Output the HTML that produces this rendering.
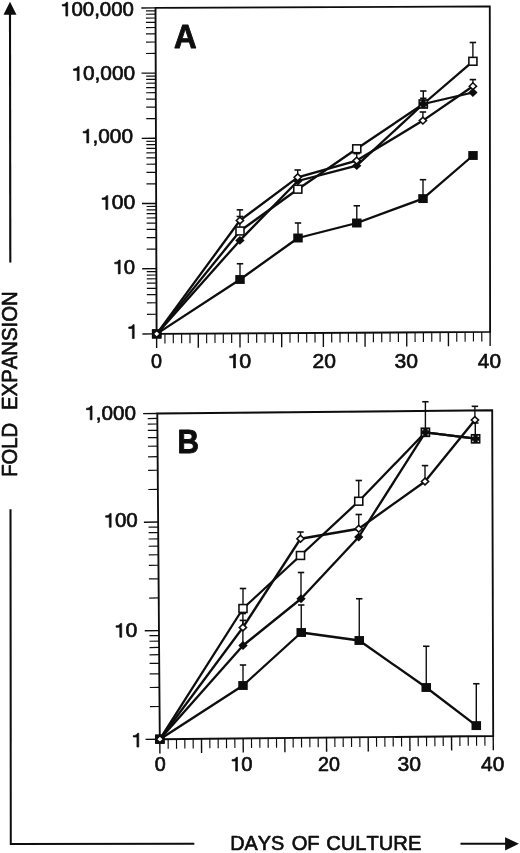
<!DOCTYPE html>
<html><head><meta charset="utf-8"><title>Fold expansion</title>
<style>
html,body{margin:0;padding:0;background:#fff;}
body{width:520px;height:853px;overflow:hidden;font-family:"Liberation Sans",sans-serif;}
svg{display:block;will-change:transform;opacity:0.999;}
svg text{font-family:"Liberation Sans",sans-serif;fill:#0a0a0a;}
</style></head><body>
<svg width="520" height="853" viewBox="0 0 520 853">
<defs><filter id="soft" x="0" y="0" width="520" height="853" filterUnits="userSpaceOnUse"><feGaussianBlur stdDeviation="0.35"/></filter></defs>
<rect width="520" height="853" fill="#fff"/>
<g filter="url(#soft)">
<line x1="156.60" y1="333.85" x2="142.40" y2="333.93" stroke="#111" stroke-width="1.4"/>
<line x1="156.53" y1="314.23" x2="146.93" y2="314.28" stroke="#111" stroke-width="1.2"/>
<line x1="156.50" y1="302.75" x2="146.90" y2="302.80" stroke="#111" stroke-width="1.2"/>
<line x1="156.47" y1="294.60" x2="146.87" y2="294.66" stroke="#111" stroke-width="1.2"/>
<line x1="156.45" y1="288.28" x2="146.85" y2="288.34" stroke="#111" stroke-width="1.2"/>
<line x1="156.43" y1="283.12" x2="146.83" y2="283.18" stroke="#111" stroke-width="1.2"/>
<line x1="156.41" y1="278.76" x2="146.81" y2="278.81" stroke="#111" stroke-width="1.2"/>
<line x1="156.40" y1="274.98" x2="146.80" y2="275.03" stroke="#111" stroke-width="1.2"/>
<line x1="156.39" y1="271.64" x2="146.79" y2="271.70" stroke="#111" stroke-width="1.2"/>
<line x1="156.38" y1="268.66" x2="142.18" y2="268.74" stroke="#111" stroke-width="1.4"/>
<line x1="156.31" y1="249.04" x2="146.71" y2="249.09" stroke="#111" stroke-width="1.2"/>
<line x1="156.28" y1="237.56" x2="146.68" y2="237.61" stroke="#111" stroke-width="1.2"/>
<line x1="156.25" y1="229.41" x2="146.65" y2="229.46" stroke="#111" stroke-width="1.2"/>
<line x1="156.23" y1="223.09" x2="146.63" y2="223.15" stroke="#111" stroke-width="1.2"/>
<line x1="156.21" y1="217.93" x2="146.61" y2="217.98" stroke="#111" stroke-width="1.2"/>
<line x1="156.19" y1="213.57" x2="146.59" y2="213.62" stroke="#111" stroke-width="1.2"/>
<line x1="156.18" y1="209.79" x2="146.58" y2="209.84" stroke="#111" stroke-width="1.2"/>
<line x1="156.17" y1="206.45" x2="146.57" y2="206.50" stroke="#111" stroke-width="1.2"/>
<line x1="156.16" y1="203.47" x2="141.96" y2="203.55" stroke="#111" stroke-width="1.4"/>
<line x1="156.09" y1="183.85" x2="146.49" y2="183.90" stroke="#111" stroke-width="1.2"/>
<line x1="156.06" y1="172.37" x2="146.46" y2="172.42" stroke="#111" stroke-width="1.2"/>
<line x1="156.03" y1="164.22" x2="146.43" y2="164.27" stroke="#111" stroke-width="1.2"/>
<line x1="156.01" y1="157.90" x2="146.41" y2="157.95" stroke="#111" stroke-width="1.2"/>
<line x1="155.99" y1="152.74" x2="146.39" y2="152.79" stroke="#111" stroke-width="1.2"/>
<line x1="155.97" y1="148.38" x2="146.37" y2="148.43" stroke="#111" stroke-width="1.2"/>
<line x1="155.96" y1="144.60" x2="146.36" y2="144.65" stroke="#111" stroke-width="1.2"/>
<line x1="155.95" y1="141.26" x2="146.35" y2="141.31" stroke="#111" stroke-width="1.2"/>
<line x1="155.94" y1="138.28" x2="141.74" y2="138.35" stroke="#111" stroke-width="1.4"/>
<line x1="155.87" y1="118.66" x2="146.27" y2="118.70" stroke="#111" stroke-width="1.2"/>
<line x1="155.84" y1="107.18" x2="146.24" y2="107.22" stroke="#111" stroke-width="1.2"/>
<line x1="155.81" y1="99.03" x2="146.21" y2="99.08" stroke="#111" stroke-width="1.2"/>
<line x1="155.79" y1="92.71" x2="146.19" y2="92.76" stroke="#111" stroke-width="1.2"/>
<line x1="155.77" y1="87.55" x2="146.17" y2="87.60" stroke="#111" stroke-width="1.2"/>
<line x1="155.75" y1="83.19" x2="146.15" y2="83.23" stroke="#111" stroke-width="1.2"/>
<line x1="155.74" y1="79.41" x2="146.14" y2="79.45" stroke="#111" stroke-width="1.2"/>
<line x1="155.73" y1="76.07" x2="146.13" y2="76.12" stroke="#111" stroke-width="1.2"/>
<line x1="155.72" y1="73.09" x2="141.52" y2="73.16" stroke="#111" stroke-width="1.4"/>
<line x1="155.65" y1="53.47" x2="146.05" y2="53.51" stroke="#111" stroke-width="1.2"/>
<line x1="155.62" y1="41.99" x2="146.02" y2="42.03" stroke="#111" stroke-width="1.2"/>
<line x1="155.59" y1="33.84" x2="145.99" y2="33.89" stroke="#111" stroke-width="1.2"/>
<line x1="155.57" y1="27.52" x2="145.97" y2="27.57" stroke="#111" stroke-width="1.2"/>
<line x1="155.55" y1="22.36" x2="145.95" y2="22.41" stroke="#111" stroke-width="1.2"/>
<line x1="155.53" y1="18.00" x2="145.93" y2="18.04" stroke="#111" stroke-width="1.2"/>
<line x1="155.52" y1="14.22" x2="145.92" y2="14.26" stroke="#111" stroke-width="1.2"/>
<line x1="155.51" y1="10.88" x2="145.91" y2="10.93" stroke="#111" stroke-width="1.2"/>
<line x1="155.50" y1="7.90" x2="141.30" y2="7.96" stroke="#111" stroke-width="1.4"/>
<line x1="156.60" y1="333.85" x2="156.65" y2="348.05" stroke="#111" stroke-width="1.4"/>
<line x1="164.94" y1="333.80" x2="164.97" y2="343.40" stroke="#111" stroke-width="1.15"/>
<line x1="173.28" y1="333.75" x2="173.31" y2="343.35" stroke="#111" stroke-width="1.15"/>
<line x1="181.61" y1="333.70" x2="181.64" y2="343.30" stroke="#111" stroke-width="1.15"/>
<line x1="189.95" y1="333.66" x2="189.98" y2="343.25" stroke="#111" stroke-width="1.15"/>
<line x1="198.29" y1="333.61" x2="198.34" y2="347.81" stroke="#111" stroke-width="1.4"/>
<line x1="206.62" y1="333.56" x2="206.66" y2="343.16" stroke="#111" stroke-width="1.15"/>
<line x1="214.96" y1="333.51" x2="214.99" y2="343.11" stroke="#111" stroke-width="1.15"/>
<line x1="223.30" y1="333.46" x2="223.33" y2="343.06" stroke="#111" stroke-width="1.15"/>
<line x1="231.64" y1="333.41" x2="231.67" y2="343.01" stroke="#111" stroke-width="1.15"/>
<line x1="239.97" y1="333.36" x2="240.02" y2="347.56" stroke="#111" stroke-width="1.4"/>
<line x1="248.31" y1="333.31" x2="248.34" y2="342.91" stroke="#111" stroke-width="1.15"/>
<line x1="256.65" y1="333.26" x2="256.68" y2="342.86" stroke="#111" stroke-width="1.15"/>
<line x1="264.99" y1="333.22" x2="265.02" y2="342.82" stroke="#111" stroke-width="1.15"/>
<line x1="273.32" y1="333.17" x2="273.36" y2="342.77" stroke="#111" stroke-width="1.15"/>
<line x1="281.66" y1="333.12" x2="281.71" y2="347.32" stroke="#111" stroke-width="1.4"/>
<line x1="290.00" y1="333.07" x2="290.03" y2="342.67" stroke="#111" stroke-width="1.15"/>
<line x1="298.34" y1="333.02" x2="298.37" y2="342.62" stroke="#111" stroke-width="1.15"/>
<line x1="306.68" y1="332.97" x2="306.71" y2="342.57" stroke="#111" stroke-width="1.15"/>
<line x1="315.01" y1="332.92" x2="315.04" y2="342.52" stroke="#111" stroke-width="1.15"/>
<line x1="323.35" y1="332.88" x2="323.40" y2="347.07" stroke="#111" stroke-width="1.4"/>
<line x1="331.69" y1="332.83" x2="331.72" y2="342.43" stroke="#111" stroke-width="1.15"/>
<line x1="340.02" y1="332.78" x2="340.06" y2="342.38" stroke="#111" stroke-width="1.15"/>
<line x1="348.36" y1="332.73" x2="348.39" y2="342.33" stroke="#111" stroke-width="1.15"/>
<line x1="356.70" y1="332.68" x2="356.73" y2="342.28" stroke="#111" stroke-width="1.15"/>
<line x1="365.04" y1="332.63" x2="365.09" y2="346.83" stroke="#111" stroke-width="1.4"/>
<line x1="373.38" y1="332.58" x2="373.41" y2="342.18" stroke="#111" stroke-width="1.15"/>
<line x1="381.71" y1="332.53" x2="381.74" y2="342.13" stroke="#111" stroke-width="1.15"/>
<line x1="390.05" y1="332.49" x2="390.08" y2="342.08" stroke="#111" stroke-width="1.15"/>
<line x1="398.39" y1="332.44" x2="398.42" y2="342.04" stroke="#111" stroke-width="1.15"/>
<line x1="406.73" y1="332.39" x2="406.77" y2="346.59" stroke="#111" stroke-width="1.4"/>
<line x1="415.06" y1="332.34" x2="415.09" y2="341.94" stroke="#111" stroke-width="1.15"/>
<line x1="423.40" y1="332.29" x2="423.43" y2="341.89" stroke="#111" stroke-width="1.15"/>
<line x1="431.74" y1="332.24" x2="431.77" y2="341.84" stroke="#111" stroke-width="1.15"/>
<line x1="440.07" y1="332.19" x2="440.11" y2="341.79" stroke="#111" stroke-width="1.15"/>
<line x1="448.41" y1="332.14" x2="448.46" y2="346.34" stroke="#111" stroke-width="1.4"/>
<line x1="456.75" y1="332.09" x2="456.78" y2="341.69" stroke="#111" stroke-width="1.15"/>
<line x1="465.09" y1="332.05" x2="465.12" y2="341.65" stroke="#111" stroke-width="1.15"/>
<line x1="473.42" y1="332.00" x2="473.46" y2="341.60" stroke="#111" stroke-width="1.15"/>
<line x1="481.76" y1="331.95" x2="481.79" y2="341.55" stroke="#111" stroke-width="1.15"/>
<line x1="490.10" y1="331.90" x2="490.15" y2="346.10" stroke="#111" stroke-width="1.4"/>
<polyline points="156.70,333.90 240.00,279.50 298.00,238.00 356.80,223.00 423.00,198.60 473.00,155.50" fill="none" stroke="#0a0a0a" stroke-width="2.3" stroke-linejoin="round"/>
<polyline points="156.70,333.90 239.90,240.40 297.80,181.00 356.70,165.70 423.30,104.00 472.90,92.50" fill="none" stroke="#0a0a0a" stroke-width="2.3" stroke-linejoin="round"/>
<polyline points="156.70,333.90 240.00,231.00 297.80,189.20 356.75,148.75 423.30,104.00 472.90,61.30" fill="none" stroke="#0a0a0a" stroke-width="2.3" stroke-linejoin="round"/>
<polyline points="156.70,333.90 239.90,220.50 297.70,177.30 356.70,160.60 422.90,120.60 472.90,86.20" fill="none" stroke="#0a0a0a" stroke-width="2.3" stroke-linejoin="round"/>
<polygon points="155.5,7.9 489.8,6.4 490.1,331.9 156.6,333.85" fill="none" stroke="#0a0a0a" stroke-width="1.85"/>
<line x1="240.00" y1="279.50" x2="240.00" y2="263.75" stroke="#111" stroke-width="1.4"/>
<line x1="236.80" y1="263.75" x2="243.20" y2="263.75" stroke="#111" stroke-width="1.6"/>
<line x1="298.00" y1="238.00" x2="298.00" y2="223.00" stroke="#111" stroke-width="1.4"/>
<line x1="294.80" y1="223.00" x2="301.20" y2="223.00" stroke="#111" stroke-width="1.6"/>
<line x1="356.80" y1="223.00" x2="356.80" y2="205.80" stroke="#111" stroke-width="1.4"/>
<line x1="353.60" y1="205.80" x2="360.00" y2="205.80" stroke="#111" stroke-width="1.6"/>
<line x1="423.00" y1="198.60" x2="423.00" y2="179.70" stroke="#111" stroke-width="1.4"/>
<line x1="419.80" y1="179.70" x2="426.20" y2="179.70" stroke="#111" stroke-width="1.6"/>
<line x1="423.30" y1="104.00" x2="423.30" y2="91.00" stroke="#111" stroke-width="1.4"/>
<line x1="420.10" y1="91.00" x2="426.50" y2="91.00" stroke="#111" stroke-width="1.6"/>
<line x1="423.30" y1="104.00" x2="423.30" y2="98.30" stroke="#111" stroke-width="1.4"/>
<line x1="420.10" y1="98.30" x2="426.50" y2="98.30" stroke="#111" stroke-width="1.6"/>
<line x1="472.90" y1="61.30" x2="472.90" y2="42.50" stroke="#111" stroke-width="1.4"/>
<line x1="469.70" y1="42.50" x2="476.10" y2="42.50" stroke="#111" stroke-width="1.6"/>
<line x1="239.85" y1="231.00" x2="239.85" y2="216.50" stroke="#111" stroke-width="1.4"/>
<line x1="236.65" y1="216.50" x2="243.05" y2="216.50" stroke="#111" stroke-width="1.6"/>
<line x1="239.90" y1="220.50" x2="239.90" y2="209.85" stroke="#111" stroke-width="1.4"/>
<line x1="236.70" y1="209.85" x2="243.10" y2="209.85" stroke="#111" stroke-width="1.6"/>
<line x1="297.70" y1="177.30" x2="297.70" y2="170.00" stroke="#111" stroke-width="1.4"/>
<line x1="294.50" y1="170.00" x2="300.90" y2="170.00" stroke="#111" stroke-width="1.6"/>
<line x1="422.90" y1="120.60" x2="422.90" y2="112.00" stroke="#111" stroke-width="1.4"/>
<line x1="419.70" y1="112.00" x2="426.10" y2="112.00" stroke="#111" stroke-width="1.6"/>
<line x1="356.70" y1="160.60" x2="356.70" y2="153.60" stroke="#111" stroke-width="1.4"/>
<line x1="353.50" y1="153.60" x2="359.90" y2="153.60" stroke="#111" stroke-width="1.6"/>
<line x1="472.90" y1="86.20" x2="472.90" y2="79.60" stroke="#111" stroke-width="1.4"/>
<line x1="469.70" y1="79.60" x2="476.10" y2="79.60" stroke="#111" stroke-width="1.6"/>
<rect x="152.67" y="329.97" width="8.05" height="7.85" fill="#fff" stroke="#0a0a0a" stroke-width="1.55"/>
<rect x="235.97" y="227.08" width="8.05" height="7.85" fill="#fff" stroke="#0a0a0a" stroke-width="1.55"/>
<rect x="293.77" y="185.28" width="8.05" height="7.85" fill="#fff" stroke="#0a0a0a" stroke-width="1.55"/>
<rect x="352.72" y="144.83" width="8.05" height="7.85" fill="#fff" stroke="#0a0a0a" stroke-width="1.55"/>
<rect x="468.87" y="57.37" width="8.05" height="7.85" fill="#fff" stroke="#0a0a0a" stroke-width="1.55"/>
<rect x="151.95" y="329.45" width="9.50" height="8.90" fill="#0a0a0a"/>
<rect x="235.25" y="275.05" width="9.50" height="8.90" fill="#0a0a0a"/>
<rect x="293.25" y="233.55" width="9.50" height="8.90" fill="#0a0a0a"/>
<rect x="352.05" y="218.55" width="9.50" height="8.90" fill="#0a0a0a"/>
<rect x="418.25" y="194.15" width="9.50" height="8.90" fill="#0a0a0a"/>
<rect x="468.25" y="151.05" width="9.50" height="8.90" fill="#0a0a0a"/>
<polygon points="152.05,333.90 156.70,329.50 161.35,333.90 156.70,338.30" fill="#0a0a0a"/>
<polygon points="235.25,240.40 239.90,236.00 244.55,240.40 239.90,244.80" fill="#0a0a0a"/>
<polygon points="293.15,181.00 297.80,176.60 302.45,181.00 297.80,185.40" fill="#0a0a0a"/>
<polygon points="352.05,165.70 356.70,161.30 361.35,165.70 356.70,170.10" fill="#0a0a0a"/>
<polygon points="468.25,92.50 472.90,88.10 477.55,92.50 472.90,96.90" fill="#0a0a0a"/>
<polygon points="153.10,333.90 156.70,330.50 160.30,333.90 156.70,337.30" fill="#fff" stroke="#0a0a0a" stroke-width="1.55" stroke-linejoin="miter"/>
<polygon points="236.30,220.50 239.90,217.10 243.50,220.50 239.90,223.90" fill="#fff" stroke="#0a0a0a" stroke-width="1.55" stroke-linejoin="miter"/>
<polygon points="294.10,177.30 297.70,173.90 301.30,177.30 297.70,180.70" fill="#fff" stroke="#0a0a0a" stroke-width="1.55" stroke-linejoin="miter"/>
<polygon points="353.10,160.60 356.70,157.20 360.30,160.60 356.70,164.00" fill="#fff" stroke="#0a0a0a" stroke-width="1.55" stroke-linejoin="miter"/>
<polygon points="419.30,120.60 422.90,117.20 426.50,120.60 422.90,124.00" fill="#fff" stroke="#0a0a0a" stroke-width="1.55" stroke-linejoin="miter"/>
<polygon points="469.30,86.20 472.90,82.80 476.50,86.20 472.90,89.60" fill="#fff" stroke="#0a0a0a" stroke-width="1.55" stroke-linejoin="miter"/>
<rect x="418.45" y="99.15" width="9.7" height="9.7" fill="#0a0a0a"/>
<rect x="419.85" y="100.75" width="1.4" height="1.4" fill="#8a8a8a"/>
<rect x="419.85" y="105.85" width="1.4" height="1.4" fill="#8a8a8a"/>
<rect x="425.35" y="100.75" width="1.4" height="1.4" fill="#8a8a8a"/>
<rect x="425.35" y="105.85" width="1.4" height="1.4" fill="#8a8a8a"/>
<line x1="159.80" y1="739.20" x2="145.60" y2="739.34" stroke="#111" stroke-width="1.4"/>
<line x1="159.55" y1="706.52" x2="149.95" y2="706.61" stroke="#111" stroke-width="1.2"/>
<line x1="159.40" y1="687.40" x2="149.80" y2="687.49" stroke="#111" stroke-width="1.2"/>
<line x1="159.30" y1="673.84" x2="149.70" y2="673.93" stroke="#111" stroke-width="1.2"/>
<line x1="159.22" y1="663.32" x2="149.62" y2="663.41" stroke="#111" stroke-width="1.2"/>
<line x1="159.15" y1="654.72" x2="149.55" y2="654.81" stroke="#111" stroke-width="1.2"/>
<line x1="159.10" y1="647.45" x2="149.50" y2="647.54" stroke="#111" stroke-width="1.2"/>
<line x1="159.05" y1="641.15" x2="149.45" y2="641.25" stroke="#111" stroke-width="1.2"/>
<line x1="159.00" y1="635.60" x2="149.41" y2="635.69" stroke="#111" stroke-width="1.2"/>
<line x1="158.97" y1="630.63" x2="144.77" y2="630.77" stroke="#111" stroke-width="1.4"/>
<line x1="158.72" y1="597.95" x2="149.12" y2="598.04" stroke="#111" stroke-width="1.2"/>
<line x1="158.57" y1="578.83" x2="148.97" y2="578.93" stroke="#111" stroke-width="1.2"/>
<line x1="158.46" y1="565.27" x2="148.87" y2="565.36" stroke="#111" stroke-width="1.2"/>
<line x1="158.38" y1="554.75" x2="148.78" y2="554.84" stroke="#111" stroke-width="1.2"/>
<line x1="158.32" y1="546.15" x2="148.72" y2="546.24" stroke="#111" stroke-width="1.2"/>
<line x1="158.26" y1="538.88" x2="148.66" y2="538.98" stroke="#111" stroke-width="1.2"/>
<line x1="158.21" y1="532.59" x2="148.61" y2="532.68" stroke="#111" stroke-width="1.2"/>
<line x1="158.17" y1="527.03" x2="148.57" y2="527.13" stroke="#111" stroke-width="1.2"/>
<line x1="158.13" y1="522.07" x2="143.93" y2="522.20" stroke="#111" stroke-width="1.4"/>
<line x1="157.88" y1="489.38" x2="148.28" y2="489.48" stroke="#111" stroke-width="1.2"/>
<line x1="157.74" y1="470.27" x2="148.14" y2="470.36" stroke="#111" stroke-width="1.2"/>
<line x1="157.63" y1="456.70" x2="148.03" y2="456.79" stroke="#111" stroke-width="1.2"/>
<line x1="157.55" y1="446.18" x2="147.95" y2="446.27" stroke="#111" stroke-width="1.2"/>
<line x1="157.48" y1="437.59" x2="147.89" y2="437.68" stroke="#111" stroke-width="1.2"/>
<line x1="157.43" y1="430.32" x2="147.83" y2="430.41" stroke="#111" stroke-width="1.2"/>
<line x1="157.38" y1="424.02" x2="147.78" y2="424.11" stroke="#111" stroke-width="1.2"/>
<line x1="157.34" y1="418.47" x2="147.74" y2="418.56" stroke="#111" stroke-width="1.2"/>
<line x1="157.30" y1="413.50" x2="143.10" y2="413.64" stroke="#111" stroke-width="1.4"/>
<line x1="159.80" y1="739.20" x2="159.91" y2="753.40" stroke="#111" stroke-width="1.4"/>
<line x1="168.14" y1="739.12" x2="168.21" y2="748.72" stroke="#111" stroke-width="1.15"/>
<line x1="176.47" y1="739.04" x2="176.54" y2="748.64" stroke="#111" stroke-width="1.15"/>
<line x1="184.81" y1="738.96" x2="184.88" y2="748.56" stroke="#111" stroke-width="1.15"/>
<line x1="193.14" y1="738.88" x2="193.21" y2="748.48" stroke="#111" stroke-width="1.15"/>
<line x1="201.48" y1="738.80" x2="201.58" y2="753.00" stroke="#111" stroke-width="1.4"/>
<line x1="209.81" y1="738.72" x2="209.88" y2="748.32" stroke="#111" stroke-width="1.15"/>
<line x1="218.15" y1="738.64" x2="218.22" y2="748.24" stroke="#111" stroke-width="1.15"/>
<line x1="226.48" y1="738.56" x2="226.55" y2="748.16" stroke="#111" stroke-width="1.15"/>
<line x1="234.81" y1="738.48" x2="234.89" y2="748.08" stroke="#111" stroke-width="1.15"/>
<line x1="243.15" y1="738.40" x2="243.26" y2="752.60" stroke="#111" stroke-width="1.4"/>
<line x1="251.49" y1="738.32" x2="251.56" y2="747.92" stroke="#111" stroke-width="1.15"/>
<line x1="259.82" y1="738.24" x2="259.89" y2="747.84" stroke="#111" stroke-width="1.15"/>
<line x1="268.15" y1="738.16" x2="268.23" y2="747.76" stroke="#111" stroke-width="1.15"/>
<line x1="276.49" y1="738.08" x2="276.56" y2="747.68" stroke="#111" stroke-width="1.15"/>
<line x1="284.82" y1="738.00" x2="284.93" y2="752.20" stroke="#111" stroke-width="1.4"/>
<line x1="293.16" y1="737.92" x2="293.23" y2="747.52" stroke="#111" stroke-width="1.15"/>
<line x1="301.50" y1="737.84" x2="301.57" y2="747.44" stroke="#111" stroke-width="1.15"/>
<line x1="309.83" y1="737.76" x2="309.90" y2="747.36" stroke="#111" stroke-width="1.15"/>
<line x1="318.16" y1="737.68" x2="318.24" y2="747.28" stroke="#111" stroke-width="1.15"/>
<line x1="326.50" y1="737.60" x2="326.61" y2="751.80" stroke="#111" stroke-width="1.4"/>
<line x1="334.84" y1="737.52" x2="334.91" y2="747.12" stroke="#111" stroke-width="1.15"/>
<line x1="343.17" y1="737.44" x2="343.24" y2="747.04" stroke="#111" stroke-width="1.15"/>
<line x1="351.50" y1="737.36" x2="351.58" y2="746.96" stroke="#111" stroke-width="1.15"/>
<line x1="359.84" y1="737.28" x2="359.91" y2="746.88" stroke="#111" stroke-width="1.15"/>
<line x1="368.18" y1="737.20" x2="368.28" y2="751.40" stroke="#111" stroke-width="1.4"/>
<line x1="376.51" y1="737.12" x2="376.58" y2="746.72" stroke="#111" stroke-width="1.15"/>
<line x1="384.85" y1="737.04" x2="384.92" y2="746.64" stroke="#111" stroke-width="1.15"/>
<line x1="393.18" y1="736.96" x2="393.25" y2="746.56" stroke="#111" stroke-width="1.15"/>
<line x1="401.51" y1="736.88" x2="401.59" y2="746.48" stroke="#111" stroke-width="1.15"/>
<line x1="409.85" y1="736.80" x2="409.96" y2="751.00" stroke="#111" stroke-width="1.4"/>
<line x1="418.19" y1="736.72" x2="418.26" y2="746.32" stroke="#111" stroke-width="1.15"/>
<line x1="426.52" y1="736.64" x2="426.59" y2="746.24" stroke="#111" stroke-width="1.15"/>
<line x1="434.85" y1="736.56" x2="434.93" y2="746.16" stroke="#111" stroke-width="1.15"/>
<line x1="443.19" y1="736.48" x2="443.26" y2="746.08" stroke="#111" stroke-width="1.15"/>
<line x1="451.52" y1="736.40" x2="451.63" y2="750.60" stroke="#111" stroke-width="1.4"/>
<line x1="459.86" y1="736.32" x2="459.93" y2="745.92" stroke="#111" stroke-width="1.15"/>
<line x1="468.19" y1="736.24" x2="468.27" y2="745.84" stroke="#111" stroke-width="1.15"/>
<line x1="476.53" y1="736.16" x2="476.60" y2="745.76" stroke="#111" stroke-width="1.15"/>
<line x1="484.87" y1="736.08" x2="484.94" y2="745.68" stroke="#111" stroke-width="1.15"/>
<line x1="493.20" y1="736.00" x2="493.31" y2="750.20" stroke="#111" stroke-width="1.4"/>
<polyline points="159.90,739.20 243.00,685.50 301.25,632.50 359.25,640.50 426.25,687.50 476.30,725.60" fill="none" stroke="#0a0a0a" stroke-width="2.3" stroke-linejoin="round"/>
<polyline points="159.90,739.20 243.00,645.50 301.00,598.75 358.75,537.00 425.40,432.30 475.60,438.60" fill="none" stroke="#0a0a0a" stroke-width="2.3" stroke-linejoin="round"/>
<polyline points="159.90,739.20 243.00,608.50 300.50,555.50 358.75,501.25 425.40,432.30 475.60,438.60" fill="none" stroke="#0a0a0a" stroke-width="2.3" stroke-linejoin="round"/>
<polyline points="159.90,739.20 242.90,627.50 300.50,538.75 358.75,528.75 425.00,481.50 474.90,420.00" fill="none" stroke="#0a0a0a" stroke-width="2.3" stroke-linejoin="round"/>
<polygon points="157.3,413.5 492.2,410.3 493.2,736.0 159.8,739.2" fill="none" stroke="#0a0a0a" stroke-width="1.85"/>
<line x1="243.00" y1="685.50" x2="243.00" y2="665.00" stroke="#111" stroke-width="1.4"/>
<line x1="239.80" y1="665.00" x2="246.20" y2="665.00" stroke="#111" stroke-width="1.6"/>
<line x1="301.25" y1="632.50" x2="301.25" y2="605.00" stroke="#111" stroke-width="1.4"/>
<line x1="298.05" y1="605.00" x2="304.45" y2="605.00" stroke="#111" stroke-width="1.6"/>
<line x1="359.25" y1="640.50" x2="359.25" y2="598.75" stroke="#111" stroke-width="1.4"/>
<line x1="356.05" y1="598.75" x2="362.45" y2="598.75" stroke="#111" stroke-width="1.6"/>
<line x1="426.25" y1="687.50" x2="426.25" y2="646.25" stroke="#111" stroke-width="1.4"/>
<line x1="423.05" y1="646.25" x2="429.45" y2="646.25" stroke="#111" stroke-width="1.6"/>
<line x1="476.30" y1="725.60" x2="476.30" y2="683.75" stroke="#111" stroke-width="1.4"/>
<line x1="473.10" y1="683.75" x2="479.50" y2="683.75" stroke="#111" stroke-width="1.6"/>
<line x1="301.00" y1="598.75" x2="301.00" y2="572.50" stroke="#111" stroke-width="1.4"/>
<line x1="297.80" y1="572.50" x2="304.20" y2="572.50" stroke="#111" stroke-width="1.6"/>
<line x1="243.00" y1="608.50" x2="243.00" y2="588.50" stroke="#111" stroke-width="1.4"/>
<line x1="239.80" y1="588.50" x2="246.20" y2="588.50" stroke="#111" stroke-width="1.6"/>
<line x1="358.75" y1="501.25" x2="358.75" y2="480.50" stroke="#111" stroke-width="1.4"/>
<line x1="355.55" y1="480.50" x2="361.95" y2="480.50" stroke="#111" stroke-width="1.6"/>
<line x1="425.40" y1="432.30" x2="425.40" y2="401.75" stroke="#111" stroke-width="1.4"/>
<line x1="422.20" y1="401.75" x2="428.60" y2="401.75" stroke="#111" stroke-width="1.6"/>
<line x1="475.30" y1="438.60" x2="475.30" y2="423.00" stroke="#111" stroke-width="1.4"/>
<line x1="472.10" y1="423.00" x2="478.50" y2="423.00" stroke="#111" stroke-width="1.6"/>
<line x1="242.90" y1="645.50" x2="242.90" y2="620.40" stroke="#111" stroke-width="1.4"/>
<line x1="239.70" y1="620.40" x2="246.10" y2="620.40" stroke="#111" stroke-width="1.6"/>
<line x1="242.90" y1="627.50" x2="242.90" y2="613.50" stroke="#111" stroke-width="1.4"/>
<line x1="239.70" y1="613.50" x2="246.10" y2="613.50" stroke="#111" stroke-width="1.6"/>
<line x1="300.50" y1="538.75" x2="300.50" y2="532.00" stroke="#111" stroke-width="1.4"/>
<line x1="297.30" y1="532.00" x2="303.70" y2="532.00" stroke="#111" stroke-width="1.6"/>
<line x1="358.75" y1="528.75" x2="358.75" y2="514.50" stroke="#111" stroke-width="1.4"/>
<line x1="355.55" y1="514.50" x2="361.95" y2="514.50" stroke="#111" stroke-width="1.6"/>
<line x1="425.00" y1="481.50" x2="425.00" y2="465.60" stroke="#111" stroke-width="1.4"/>
<line x1="421.80" y1="465.60" x2="428.20" y2="465.60" stroke="#111" stroke-width="1.6"/>
<line x1="474.90" y1="420.00" x2="474.90" y2="406.30" stroke="#111" stroke-width="1.4"/>
<line x1="471.70" y1="406.30" x2="478.10" y2="406.30" stroke="#111" stroke-width="1.6"/>
<rect x="155.88" y="735.27" width="8.05" height="7.85" fill="#fff" stroke="#0a0a0a" stroke-width="1.55"/>
<rect x="238.97" y="604.57" width="8.05" height="7.85" fill="#fff" stroke="#0a0a0a" stroke-width="1.55"/>
<rect x="296.47" y="551.57" width="8.05" height="7.85" fill="#fff" stroke="#0a0a0a" stroke-width="1.55"/>
<rect x="354.72" y="497.32" width="8.05" height="7.85" fill="#fff" stroke="#0a0a0a" stroke-width="1.55"/>
<rect x="155.15" y="734.75" width="9.50" height="8.90" fill="#0a0a0a"/>
<rect x="238.25" y="681.05" width="9.50" height="8.90" fill="#0a0a0a"/>
<rect x="296.50" y="628.05" width="9.50" height="8.90" fill="#0a0a0a"/>
<rect x="354.50" y="636.05" width="9.50" height="8.90" fill="#0a0a0a"/>
<rect x="421.50" y="683.05" width="9.50" height="8.90" fill="#0a0a0a"/>
<rect x="471.55" y="721.15" width="9.50" height="8.90" fill="#0a0a0a"/>
<polygon points="155.25,739.20 159.90,734.80 164.55,739.20 159.90,743.60" fill="#0a0a0a"/>
<polygon points="238.35,645.50 243.00,641.10 247.65,645.50 243.00,649.90" fill="#0a0a0a"/>
<polygon points="296.35,598.75 301.00,594.35 305.65,598.75 301.00,603.15" fill="#0a0a0a"/>
<polygon points="354.10,537.00 358.75,532.60 363.40,537.00 358.75,541.40" fill="#0a0a0a"/>
<polygon points="156.30,739.20 159.90,735.80 163.50,739.20 159.90,742.60" fill="#fff" stroke="#0a0a0a" stroke-width="1.55" stroke-linejoin="miter"/>
<polygon points="239.30,627.50 242.90,624.10 246.50,627.50 242.90,630.90" fill="#fff" stroke="#0a0a0a" stroke-width="1.55" stroke-linejoin="miter"/>
<polygon points="296.90,538.75 300.50,535.35 304.10,538.75 300.50,542.15" fill="#fff" stroke="#0a0a0a" stroke-width="1.55" stroke-linejoin="miter"/>
<polygon points="355.15,528.75 358.75,525.35 362.35,528.75 358.75,532.15" fill="#fff" stroke="#0a0a0a" stroke-width="1.55" stroke-linejoin="miter"/>
<polygon points="421.40,481.50 425.00,478.10 428.60,481.50 425.00,484.90" fill="#fff" stroke="#0a0a0a" stroke-width="1.55" stroke-linejoin="miter"/>
<polygon points="471.30,420.00 474.90,416.60 478.50,420.00 474.90,423.40" fill="#fff" stroke="#0a0a0a" stroke-width="1.55" stroke-linejoin="miter"/>
<rect x="420.55" y="427.45" width="9.7" height="9.7" fill="#0a0a0a"/>
<rect x="421.95" y="429.05" width="1.4" height="1.4" fill="#b0b0b0"/>
<rect x="421.95" y="434.15" width="1.4" height="1.4" fill="#b0b0b0"/>
<rect x="427.45" y="429.05" width="1.4" height="1.4" fill="#b0b0b0"/>
<rect x="427.45" y="434.15" width="1.4" height="1.4" fill="#b0b0b0"/>
<rect x="470.75" y="433.95" width="9.7" height="9.7" fill="#0a0a0a"/>
<rect x="472.15" y="435.55" width="1.4" height="1.4" fill="#c8c8c8"/>
<rect x="472.15" y="440.65" width="1.4" height="1.4" fill="#c8c8c8"/>
<rect x="477.65" y="435.55" width="1.4" height="1.4" fill="#c8c8c8"/>
<rect x="477.65" y="440.65" width="1.4" height="1.4" fill="#c8c8c8"/>
<g transform="translate(60.08,16.07) scale(1.0207,1.0065)" fill="#0a0a0a" stroke="#0a0a0a" stroke-width="0.641" stroke-linejoin="round"><path d="M 7.46,-0.00 L 5.66,-0.00 L 5.66,-10.00 L 2.10,-10.00 L 2.10,-11.44 C 4.20,-11.50 5.80,-12.20 6.24,-13.76 L 7.46,-13.76 Z"/><text x="11.12" y="0" font-size="20.0">0</text><text x="22.25" y="0" font-size="20.0">0</text><text x="33.37" y="0" font-size="20.0">,</text><text x="38.93" y="0" font-size="20.0">0</text><text x="50.05" y="0" font-size="20.0">0</text><text x="61.17" y="0" font-size="20.0">0</text></g>
<g transform="translate(71.34,80.47) scale(1.0422,1.0065)" fill="#0a0a0a" stroke="#0a0a0a" stroke-width="0.635" stroke-linejoin="round"><path d="M 7.46,-0.00 L 5.66,-0.00 L 5.66,-10.00 L 2.10,-10.00 L 2.10,-11.44 C 4.20,-11.50 5.80,-12.20 6.24,-13.76 L 7.46,-13.76 Z"/><text x="11.12" y="0" font-size="20.0">0</text><text x="22.25" y="0" font-size="20.0">,</text><text x="27.80" y="0" font-size="20.0">0</text><text x="38.93" y="0" font-size="20.0">0</text><text x="50.05" y="0" font-size="20.0">0</text></g>
<g transform="translate(80.94,142.98) scale(1.0399,1.0065)" fill="#0a0a0a" stroke="#0a0a0a" stroke-width="0.635" stroke-linejoin="round"><path d="M 7.46,-0.00 L 5.66,-0.00 L 5.66,-10.00 L 2.10,-10.00 L 2.10,-11.44 C 4.20,-11.50 5.80,-12.20 6.24,-13.76 L 7.46,-13.76 Z"/><text x="11.12" y="0" font-size="20.0">,</text><text x="16.68" y="0" font-size="20.0">0</text><text x="27.80" y="0" font-size="20.0">0</text><text x="38.93" y="0" font-size="20.0">0</text></g>
<g transform="translate(99.90,209.48) scale(1.0578,1.0065)" fill="#0a0a0a" stroke="#0a0a0a" stroke-width="0.630" stroke-linejoin="round"><path d="M 7.46,-0.00 L 5.66,-0.00 L 5.66,-10.00 L 2.10,-10.00 L 2.10,-11.44 C 4.20,-11.50 5.80,-12.20 6.24,-13.76 L 7.46,-13.76 Z"/><text x="11.12" y="0" font-size="20.0">0</text><text x="22.25" y="0" font-size="20.0">0</text></g>
<g transform="translate(112.59,273.88) scale(1.0147,1.0065)" fill="#0a0a0a" stroke="#0a0a0a" stroke-width="0.643" stroke-linejoin="round"><path d="M 7.46,-0.00 L 5.66,-0.00 L 5.66,-10.00 L 2.10,-10.00 L 2.10,-11.44 C 4.20,-11.50 5.80,-12.20 6.24,-13.76 L 7.46,-13.76 Z"/><text x="11.12" y="0" font-size="20.0">0</text></g>
<g transform="translate(126.59,338.48) scale(1.0168,1.0065)" fill="#0a0a0a" stroke="#0a0a0a" stroke-width="0.643" stroke-linejoin="round"><path d="M 7.46,-0.00 L 5.66,-0.00 L 5.66,-10.00 L 2.10,-10.00 L 2.10,-11.44 C 4.20,-11.50 5.80,-12.20 6.24,-13.76 L 7.46,-13.76 Z"/></g>
<g transform="translate(151.05,367.88) scale(0.9884,1.0065)" fill="#0a0a0a" stroke="#0a0a0a" stroke-width="0.652" stroke-linejoin="round"><text x="0.00" y="0" font-size="20.0">0</text></g>
<g transform="translate(227.47,367.88) scale(1.0715,1.0065)" fill="#0a0a0a" stroke="#0a0a0a" stroke-width="0.626" stroke-linejoin="round"><path d="M 7.46,-0.00 L 5.66,-0.00 L 5.66,-10.00 L 2.10,-10.00 L 2.10,-11.44 C 4.20,-11.50 5.80,-12.20 6.24,-13.76 L 7.46,-13.76 Z"/><text x="11.12" y="0" font-size="20.0">0</text></g>
<g transform="translate(312.47,367.88) scale(1.0533,1.0065)" fill="#0a0a0a" stroke="#0a0a0a" stroke-width="0.631" stroke-linejoin="round"><text x="0.00" y="0" font-size="20.0">2</text><text x="11.12" y="0" font-size="20.0">0</text></g>
<g transform="translate(394.52,367.88) scale(1.0554,1.0065)" fill="#0a0a0a" stroke="#0a0a0a" stroke-width="0.630" stroke-linejoin="round"><text x="0.00" y="0" font-size="20.0">3</text><text x="11.12" y="0" font-size="20.0">0</text></g>
<g transform="translate(477.85,367.88) scale(1.0402,1.0065)" fill="#0a0a0a" stroke="#0a0a0a" stroke-width="0.635" stroke-linejoin="round"><text x="0.00" y="0" font-size="20.0">4</text><text x="11.12" y="0" font-size="20.0">0</text></g>
<g transform="translate(84.35,419.78) scale(1.0335,1.0065)" fill="#0a0a0a" stroke="#0a0a0a" stroke-width="0.637" stroke-linejoin="round"><path d="M 7.46,-0.00 L 5.66,-0.00 L 5.66,-10.00 L 2.10,-10.00 L 2.10,-11.44 C 4.20,-11.50 5.80,-12.20 6.24,-13.76 L 7.46,-13.76 Z"/><text x="11.12" y="0" font-size="20.0">,</text><text x="16.68" y="0" font-size="20.0">0</text><text x="27.80" y="0" font-size="20.0">0</text><text x="38.93" y="0" font-size="20.0">0</text></g>
<g transform="translate(103.47,527.27) scale(1.0283,1.0065)" fill="#0a0a0a" stroke="#0a0a0a" stroke-width="0.639" stroke-linejoin="round"><path d="M 7.46,-0.00 L 5.66,-0.00 L 5.66,-10.00 L 2.10,-10.00 L 2.10,-11.44 C 4.20,-11.50 5.80,-12.20 6.24,-13.76 L 7.46,-13.76 Z"/><text x="11.12" y="0" font-size="20.0">0</text><text x="22.25" y="0" font-size="20.0">0</text></g>
<g transform="translate(113.80,637.27) scale(1.0612,1.0065)" fill="#0a0a0a" stroke="#0a0a0a" stroke-width="0.629" stroke-linejoin="round"><path d="M 7.46,-0.00 L 5.66,-0.00 L 5.66,-10.00 L 2.10,-10.00 L 2.10,-11.44 C 4.20,-11.50 5.80,-12.20 6.24,-13.76 L 7.46,-13.76 Z"/><text x="11.12" y="0" font-size="20.0">0</text></g>
<g transform="translate(131.19,747.07) scale(1.0168,1.0065)" fill="#0a0a0a" stroke="#0a0a0a" stroke-width="0.643" stroke-linejoin="round"><path d="M 7.46,-0.00 L 5.66,-0.00 L 5.66,-10.00 L 2.10,-10.00 L 2.10,-11.44 C 4.20,-11.50 5.80,-12.20 6.24,-13.76 L 7.46,-13.76 Z"/></g>
<g transform="translate(154.85,771.07) scale(0.9884,1.0065)" fill="#0a0a0a" stroke="#0a0a0a" stroke-width="0.652" stroke-linejoin="round"><text x="0.00" y="0" font-size="20.0">0</text></g>
<g transform="translate(229.95,771.07) scale(1.0121,1.0065)" fill="#0a0a0a" stroke="#0a0a0a" stroke-width="0.644" stroke-linejoin="round"><path d="M 7.46,-0.00 L 5.66,-0.00 L 5.66,-10.00 L 2.10,-10.00 L 2.10,-11.44 C 4.20,-11.50 5.80,-12.20 6.24,-13.76 L 7.46,-13.76 Z"/><text x="11.12" y="0" font-size="20.0">0</text></g>
<g transform="translate(318.09,771.07) scale(0.9825,1.0065)" fill="#0a0a0a" stroke="#0a0a0a" stroke-width="0.654" stroke-linejoin="round"><text x="0.00" y="0" font-size="20.0">2</text><text x="11.12" y="0" font-size="20.0">0</text></g>
<g transform="translate(397.52,771.07) scale(1.0554,1.0065)" fill="#0a0a0a" stroke="#0a0a0a" stroke-width="0.630" stroke-linejoin="round"><text x="0.00" y="0" font-size="20.0">3</text><text x="11.12" y="0" font-size="20.0">0</text></g>
<g transform="translate(481.10,771.07) scale(1.0402,1.0065)" fill="#0a0a0a" stroke="#0a0a0a" stroke-width="0.635" stroke-linejoin="round"><text x="0.00" y="0" font-size="20.0">4</text><text x="11.12" y="0" font-size="20.0">0</text></g>
<g transform="translate(174.07,47.65) scale(0.9782,1.0174)" fill="#0a0a0a" stroke="#0a0a0a" stroke-width="0.902" stroke-linejoin="round"><text x="0.00" y="0" font-size="32" font-weight="bold">A</text></g>
<g transform="translate(177.46,452.95) scale(0.9275,1.0174)" fill="#0a0a0a" stroke="#0a0a0a" stroke-width="0.925" stroke-linejoin="round"><text x="0.00" y="0" font-size="32" font-weight="bold">B</text></g>
<g transform="translate(230.20,850.17) scale(0.9932,0.9993)" fill="#0a0a0a" stroke="#0a0a0a" stroke-width="0.652" stroke-linejoin="round"><text x="0.00" y="0" font-size="20.0">D</text><text x="14.44" y="0" font-size="20.0">A</text><text x="27.78" y="0" font-size="20.0">Y</text><text x="41.12" y="0" font-size="20.0">S</text></g>
<g transform="translate(291.67,850.17) scale(1.0086,0.9993)" fill="#0a0a0a" stroke="#0a0a0a" stroke-width="0.647" stroke-linejoin="round"><text x="0.00" y="0" font-size="20.0">O</text><text x="15.56" y="0" font-size="20.0">F</text></g>
<g transform="translate(326.30,850.17) scale(1.0062,0.9993)" fill="#0a0a0a" stroke="#0a0a0a" stroke-width="0.648" stroke-linejoin="round"><text x="0.00" y="0" font-size="20.0">C</text><text x="14.44" y="0" font-size="20.0">U</text><text x="28.89" y="0" font-size="20.0">L</text><text x="40.01" y="0" font-size="20.0">T</text><text x="52.23" y="0" font-size="20.0">U</text><text x="66.67" y="0" font-size="20.0">R</text><text x="81.11" y="0" font-size="20.0">E</text></g>
<g transform="translate(17.28,476.84) rotate(-90) scale(1.0139,1.0647)" fill="#0a0a0a" stroke="#0a0a0a" stroke-width="0.625" stroke-linejoin="round"><text x="0.00" y="0" font-size="20.0">F</text><text x="12.22" y="0" font-size="20.0">O</text><text x="27.77" y="0" font-size="20.0">L</text><text x="38.90" y="0" font-size="20.0">D</text></g>
<g transform="translate(17.28,410.05) rotate(-90) scale(1.0187,1.0647)" fill="#0a0a0a" stroke="#0a0a0a" stroke-width="0.624" stroke-linejoin="round"><text x="0.00" y="0" font-size="20.0">E</text><text x="13.34" y="0" font-size="20.0">X</text><text x="26.68" y="0" font-size="20.0">P</text><text x="40.02" y="0" font-size="20.0">A</text><text x="53.36" y="0" font-size="20.0">N</text><text x="67.80" y="0" font-size="20.0">S</text><text x="81.14" y="0" font-size="20.0">I</text><text x="86.70" y="0" font-size="20.0">O</text><text x="102.26" y="0" font-size="20.0">N</text></g>
<polygon points="10,1.7 3.5,14.8 16.5,14.8" fill="#0a0a0a"/>
<line x1="10.0" y1="14" x2="10.3" y2="262.5" stroke="#0a0a0a" stroke-width="2.1"/>
<polyline points="10.5,509.2 10.8,844.1 194.3,843.8" fill="none" stroke="#0a0a0a" stroke-width="2.0" stroke-linejoin="miter"/>
<line x1="460.5" y1="843.8" x2="506" y2="843.8" stroke="#0a0a0a" stroke-width="2.0"/>
<polygon points="518.9,843.8 505.1,837.2 505.1,850.4" fill="#0a0a0a"/>
</g>
</svg>
</body></html>
